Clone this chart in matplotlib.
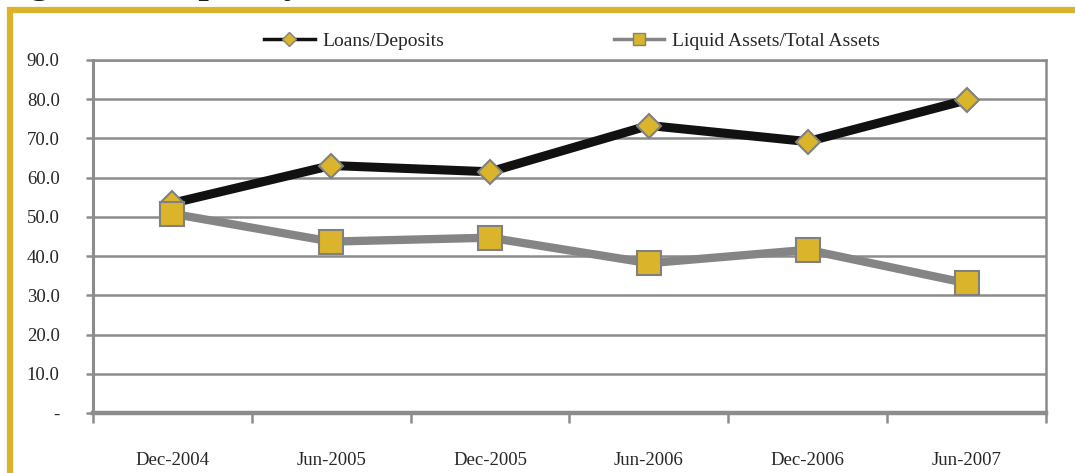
import matplotlib
matplotlib.use("Agg")
import matplotlib.pyplot as plt
from matplotlib.lines import Line2D
from matplotlib.patches import Rectangle
from matplotlib.ticker import FixedLocator, FixedFormatter

periods = ["Dec-2004", "Jun-2005", "Dec-2005", "Jun-2006", "Dec-2006", "Jun-2007"]
loans_deposits = [53.5, 63.1, 61.5, 73.3, 69.2, 79.8]
liquid_total = [50.8, 43.7, 44.7, 38.2, 41.6, 33.1]
y_ticks = [0, 10, 20, 30, 40, 50, 60, 70, 80, 90]
y_tick_labels = ["-", "10.0", "20.0", "30.0", "40.0", "50.0", "60.0", "70.0", "80.0", "90.0"]

GOLD = "#DAB52B"
GRID = "#8C8C8C"
EDGE = "#808080"
TXT = "#262626"

plt.rcParams["font.family"] = ["Liberation Serif", "DejaVu Serif"]

W, H = 1075, 473
fig = plt.figure(figsize=(W / 100, H / 100), dpi=100)

# gold frame around the chart (extends past the right and bottom edges)
fig.patches.append(Rectangle((10 / W, -0.2), 1.2, 1 - 10 / H + 0.2,
                             transform=fig.transFigure, fill=False,
                             edgecolor=GOLD, linewidth=4.5, zorder=0))

# caption sitting above the frame
fig.text(-3 / W, 1 + 7 / H, "Figure 2: Liquidity Indicators, 2004–2007",
         fontsize=27, fontweight="bold", color="#1a1a1a",
         ha="left", va="baseline")

ax = fig.add_axes([93 / W, (H - 413) / H, (1046 - 93) / W, (413 - 60) / H])

x = list(range(len(periods)))
ax.plot(x, loans_deposits, color="#111111", linewidth=6.5, zorder=3,
        solid_joinstyle="round",
        marker="D", markersize=12.7, markerfacecolor=GOLD,
        markeredgecolor=EDGE, markeredgewidth=1.5)
ax.plot(x, liquid_total, color="#858585", linewidth=6, zorder=4,
        solid_joinstyle="round",
        marker="s", markersize=17, markerfacecolor=GOLD,
        markeredgecolor=EDGE, markeredgewidth=1.5)

ax.set_xlim(-0.5, len(periods) - 0.5)
ax.set_ylim(0, 90)

ax.yaxis.set_major_locator(FixedLocator(y_ticks))
ax.yaxis.set_major_formatter(FixedFormatter(y_tick_labels))
ax.grid(axis="y", color=GRID, linewidth=1.8, zorder=1)
ax.set_axisbelow(True)

ax.xaxis.set_major_locator(FixedLocator([i - 0.5 for i in range(len(periods) + 1)]))
ax.xaxis.set_major_formatter(FixedFormatter([""] * (len(periods) + 1)))
ax.xaxis.set_minor_locator(FixedLocator(x))
ax.xaxis.set_minor_formatter(FixedFormatter(periods))

ax.tick_params(axis="x", which="major", length=7, width=1.8, color=GRID)
ax.tick_params(axis="x", which="minor", length=0, pad=28, labelsize=13.5, labelcolor=TXT)
ax.tick_params(axis="y", length=5, width=1.8, color=GRID, pad=19,
               labelsize=13.5, labelcolor=TXT)

for side in ["top", "right"]:
    ax.spines[side].set_color(GRID)
    ax.spines[side].set_linewidth(1.8)
ax.spines["left"].set_color(GRID)
ax.spines["left"].set_linewidth(2.2)
ax.spines["bottom"].set_color(GRID)
ax.spines["bottom"].set_linewidth(3.2)

handles = [
    Line2D([], [], color="#111111", linewidth=2.5, marker="D", markersize=7,
           markerfacecolor=GOLD, markeredgecolor=EDGE, markeredgewidth=1),
    Line2D([], [], color="#858585", linewidth=2.5, marker="s", markersize=9,
           markerfacecolor=GOLD, markeredgecolor=EDGE, markeredgewidth=1),
]
fig.legend(handles, ["Loans/Deposits", "Liquid Assets/Total Assets"],
           loc="center", bbox_to_anchor=(572 / W, 1 - 41 / H), ncol=2,
           frameon=False, fontsize=14, handlelength=2.6, handletextpad=0.4,
           columnspacing=8.7, labelcolor=TXT)

fig.savefig("out.png", dpi=100)
